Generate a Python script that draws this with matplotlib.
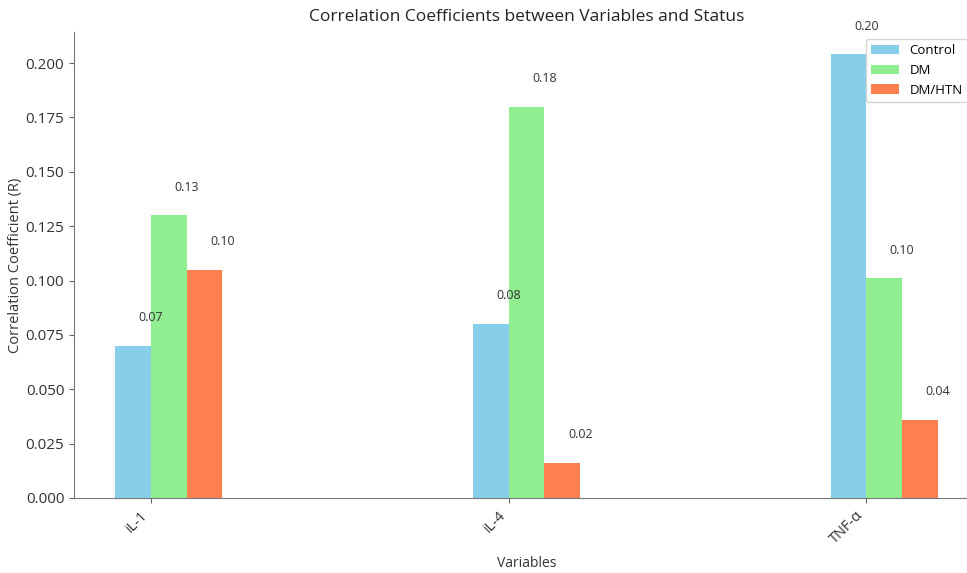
import matplotlib
matplotlib.use("Agg")
import matplotlib.pyplot as plt
import numpy as np

plt.rcParams['font.family'] = ['Open Sans', 'DejaVu Sans']

categories = ["iL-1", "iL-4", "TNF-α"]
series_names = ["Control", "DM", "DM/HTN"]
control = [0.070, 0.080, 0.204]
dm = [0.130, 0.180, 0.101]
dm_htn = [0.105, 0.016, 0.036]
colors = ["#87CEEB", "#90EE90", "#FF7F50"]

fig = plt.figure(figsize=(9.67, 5.73), dpi=100)
ax = fig.add_axes([0.0765, 0.1309, 0.936, 0.813])

x = np.arange(len(categories))
width = 0.1
for i, (name, vals, c) in enumerate(zip(series_names, [control, dm, dm_htn], colors)):
    bars = ax.bar(x + (i - 0.5) * width, vals, width, label=name, color=c)
    for b, v in zip(bars, vals):
        ax.text(b.get_x() + b.get_width(), v + 0.01, f"{v:.2f}",
                ha='center', va='bottom', fontsize=9, color='#333333')

ax.set_xticks(x)
ax.set_xticklabels(categories, rotation=45, ha='right', fontsize=10.5, color='#333333')
ax.tick_params(axis='y', labelsize=11, colors='#333333')
ax.tick_params(axis='both', color='#666666')
ax.set_xlabel("Variables", fontsize=10, color='#333333', labelpad=7)
ax.set_ylabel("Correlation Coefficient (R)", fontsize=10.5, color='#333333', labelpad=2)
ax.set_title("Correlation Coefficients between Variables and Status", fontsize=12.5, color='#222222', pad=8)
for s in ['top', 'right']:
    ax.spines[s].set_visible(False)
for s in ['left', 'bottom']:
    ax.spines[s].set_color('#777777')
ax.legend(loc='upper right', fontsize=9.5, bbox_to_anchor=(0.9875, 0.985), borderaxespad=0,
          handlelength=2.1)

fig.savefig("out.png", dpi=100)
